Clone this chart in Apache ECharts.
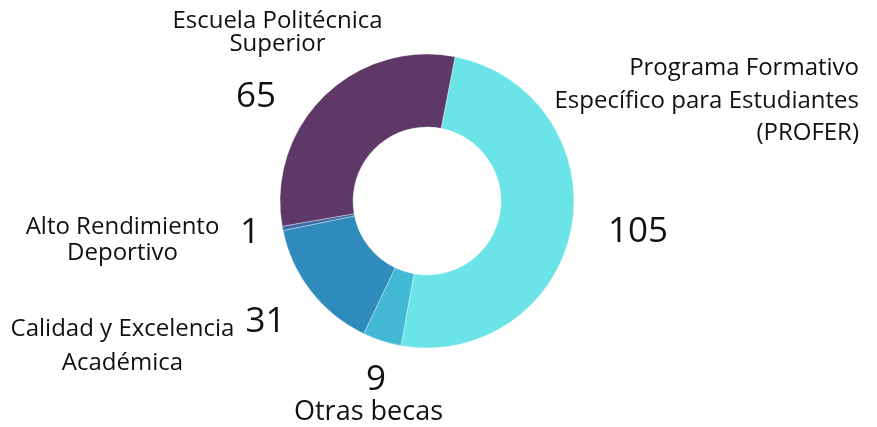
<!DOCTYPE html>
<html>
<head>
<meta charset="utf-8">
<script src="https://cdn.jsdelivr.net/npm/echarts@6/dist/echarts.min.js"></script>
<style>html,body{margin:0;padding:0;background:#fff}#c{width:877px;height:427px}</style>
</head>
<body>
<div id="c"></div>
<script>
const categories = [
  'Programa Formativo\nEspecífico para Estudiantes\n(PROFER)',
  'Otras becas',
  'Calidad y Excelencia\nAcadémica',
  'Alto Rendimiento\nDeportivo',
  'Escuela Politécnica\nSuperior'
];
const values = [105, 9, 31, 1, 65];
const colors = ['#6ae4e6', '#42b8d5', '#2e8bbb', '#3e6aa6', '#5e3866'];

// label placement (layout, not data)
const nameLayout = [
  {x: 859, y: 101, align: 'right', lh: 32.5, fs: 24},
  {x: 368.5, y: 412, align: 'center', lh: 27, fs: 27},
  {x: 122.5, y: 346, align: 'center', lh: 33.5, fs: 24},
  {x: 122.5, y: 240, align: 'center', lh: 26.5, fs: 24},
  {x: 277.5, y: 32.5, align: 'center', lh: 23, fs: 24}
];
const valueLayout = [
  {x: 638, y: 232},
  {x: 376, y: 380},
  {x: 265.5, y: 322},
  {x: 250, y: 233},
  {x: 256, y: 97}
];

const chart = echarts.init(document.getElementById('c'), null, {renderer: 'canvas'});
const FONT = '"Open Sans", sans-serif';
const pieBase = {
  type: 'pie',
  center: [427, 201],
  radius: [74, 147],
  startAngle: 79,
  clockwise: true,
  avoidLabelOverlap: false,
  labelLine: {show: false}
};
chart.setOption({
  animation: false,
  series: [
    Object.assign({}, pieBase, {
      name: 'slices',
      z: 2,
      itemStyle: {borderColor: 'rgba(255,255,255,0.6)', borderWidth: 0.6},
      label: {show: true, position: 'outside', formatter: '{b}', fontFamily: FONT, fontSize: 24, color: '#111'},
      data: categories.map((c, i) => ({
        name: c, value: values[i],
        itemStyle: {color: colors[i]},
        label: {lineHeight: nameLayout[i].lh, fontSize: nameLayout[i].fs, align: nameLayout[i].align}
      })),
      labelLayout: p => ({x: nameLayout[p.dataIndex].x, y: nameLayout[p.dataIndex].y, align: nameLayout[p.dataIndex].align, verticalAlign: 'middle'})
    }),
    Object.assign({}, pieBase, {
      name: 'values',
      z: 1,
      silent: true,
      itemStyle: {color: 'rgba(0,0,0,0)', borderWidth: 0},
      label: {show: true, position: 'outside', formatter: '{c}', fontFamily: FONT, fontSize: 35, color: '#111'},
      data: categories.map((c, i) => ({name: c, value: values[i]})),
      labelLayout: p => ({x: valueLayout[p.dataIndex].x, y: valueLayout[p.dataIndex].y, align: 'center', verticalAlign: 'middle'})
    })
  ]
});
</script>
</body>
</html>
